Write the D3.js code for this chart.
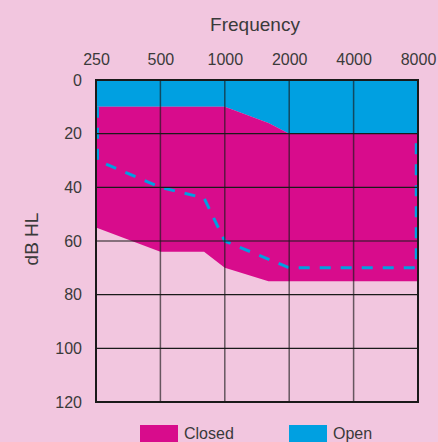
<!DOCTYPE html>
<html>
<head>
<meta charset="utf-8">
<script src="https://cdn.jsdelivr.net/npm/d3@7"></script>
<style>
  html, body { margin: 0; padding: 0; background: #F2C6DF; }
  svg { display: block; }
  text { font-family: "Liberation Sans", Arial, sans-serif; fill: #3a3a3a; }
</style>
</head>
<body>
<svg id="chart" width="438" height="442"></svg>
<script>
// ---- data ----
const freqTicks = [250, 500, 1000, 2000, 4000, 8000];
const dbTicks = [0, 20, 40, 60, 80, 100, 120];

const closedUpperFreq = [250, 1000, 1600, 2000, 8000];
const closedUpperDb   = [10, 10, 16, 20, 20];
const closedLowerFreq = [250, 500, 800, 1000, 1600, 8000];
const closedLowerDb   = [55, 64, 64, 70, 75, 75];

const openFreq = [254, 254, 500, 800, 1000, 2000, 7850, 7850];
const openDb   = [10, 30, 40, 44, 60, 70, 70, 20];

const legendLabels = ["Closed", "Open"];
const colors = { closed: "#D80C8C", open: "#00A0E1" };

// ---- layout ----
const svg = d3.select("#chart");
const x = d3.scaleLog().base(2).domain([250, 8000]).range([96, 418]);
const y = d3.scaleLinear().domain([0, 120]).range([80, 402]);

const upper = closedUpperFreq.map((f, i) => [f, closedUpperDb[i]]);
const lower = closedLowerFreq.map((f, i) => [f, closedLowerDb[i]]);
const openPts = openFreq.map((f, i) => [f, openDb[i]]);

// open (blue) area from 0 dB to closed upper boundary
const openArea = d3.area().x(d => x(d[0])).y0(y(0)).y1(d => y(d[1]));
svg.append("path").attr("d", openArea(upper)).attr("fill", colors.open);

// closed (magenta) polygon
const line = d3.line().x(d => x(d[0])).y(d => y(d[1]));
svg.append("path")
  .attr("d", line(upper.concat(lower.slice().reverse())) + "Z")
  .attr("fill", colors.closed);

// dashed open line
svg.append("path")
  .attr("d", line(openPts))
  .attr("fill", "none")
  .attr("stroke", colors.open)
  .attr("stroke-width", 3)
  .attr("stroke-dasharray", "11,10");

// grid
const g = svg.append("g");
g.selectAll(".hg").data(dbTicks.slice(1, -1)).enter().append("line")
  .attr("x1", x(250)).attr("x2", x(8000))
  .attr("y1", d => y(d)).attr("y2", d => y(d))
  .attr("stroke", "#1a1a1a").attr("stroke-width", 1.2);
g.selectAll(".vg").data(freqTicks.slice(1, -1)).enter().append("line")
  .attr("x1", d => x(d)).attr("x2", d => x(d))
  .attr("y1", y(0)).attr("y2", y(120))
  .attr("stroke", "#1a1a1a").attr("stroke-opacity", 0.65).attr("stroke-width", 1.5);
g.append("rect")
  .attr("x", x(250)).attr("y", y(0))
  .attr("width", x(8000) - x(250)).attr("height", y(120) - y(0))
  .attr("fill", "none").attr("stroke", "#1a1a1a").attr("stroke-width", 2);

// axes
const xAxis = svg.append("g").attr("transform", `translate(0,${y(0)})`)
  .call(d3.axisTop(x).tickValues(freqTicks).tickFormat(d3.format("d")).tickSize(0).tickPadding(15));
const yAxis = svg.append("g").attr("transform", `translate(${x(250)},0)`)
  .call(d3.axisLeft(y).tickValues(dbTicks).tickSize(0).tickPadding(14));
[xAxis, yAxis].forEach(a => {
  a.select(".domain").remove();
  a.selectAll("text").attr("font-size", 16)
    .attr("font-family", "'Liberation Sans', Arial, sans-serif").attr("fill", "#3a3a3a");
});

// titles
svg.append("text").attr("x", 255).attr("y", 31)
  .attr("text-anchor", "middle").attr("font-size", 19).text("Frequency");
svg.append("text").attr("transform", "translate(38,239) rotate(-90)")
  .attr("text-anchor", "middle").attr("font-size", 19).text("dB HL");

// legend
const legX = [140, 289];
const legColors = [colors.closed, colors.open];
const leg = svg.selectAll(".leg").data(legendLabels).enter().append("g")
  .attr("transform", (d, i) => `translate(${legX[i]},425)`);
leg.append("rect").attr("width", 38).attr("height", 17).attr("fill", (d, i) => legColors[i]);
leg.append("text").attr("x", 44).attr("y", 14).attr("font-size", 16).text(d => d);
</script>
</body>
</html>
